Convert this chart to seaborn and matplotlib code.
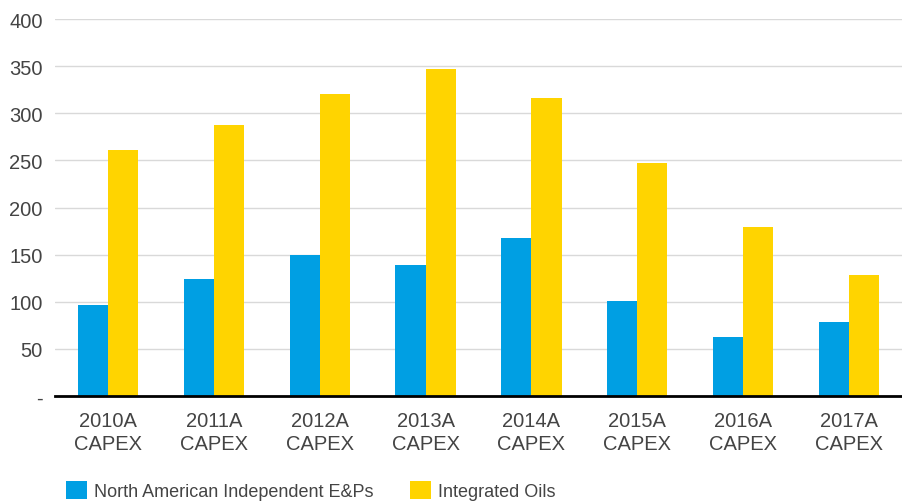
import pandas as pd
import numpy as np
import matplotlib.pyplot as plt
import seaborn as sns

# values
years = ['2010A\nCAPEX', '2011A\nCAPEX', '2012A\nCAPEX', '2013A\nCAPEX',
         '2014A\nCAPEX', '2015A\nCAPEX', '2016A\nCAPEX', '2017A\nCAPEX']
na_eps = [97, 124, 150, 139, 168, 101, 63, 78]
integrated = [261, 288, 320, 347, 316, 247, 179, 128]
series = ['North American Independent E&Ps', 'Integrated Oils']

df = pd.DataFrame({
    'Year': years * 2,
    'Series': [series[0]] * len(years) + [series[1]] * len(years),
    'Value': na_eps + integrated,
})

sns.set_style('white')
plt.rcParams['font.family'] = ['Liberation Sans', 'DejaVu Sans']

fig = plt.figure(figsize=(9.02, 5.02), dpi=100)
ax = fig.add_axes([55 / 902, 1 - 397 / 502, 847 / 902, 377 / 502])

ax = sns.barplot(data=df, x='Year', y='Value', hue='Series', order=years,
                 hue_order=series, palette=['#009FE3', '#FFD400'],
                 width=0.57, saturation=1, edgecolor='none', ax=ax)

ax.set_ylim(0, 400)
ax.set_xlim(-0.5, 7.5)
ax.set_yticks(np.arange(0, 401, 50))
ax.set_yticklabels(['-'] + [str(v) for v in range(50, 401, 50)])
ax.yaxis.grid(True, color='#D9D9D9', linewidth=1)
ax.set_axisbelow(True)
ax.set_xlabel('')
ax.set_ylabel('')
for s in ['top', 'right', 'left']:
    ax.spines[s].set_visible(False)
ax.spines['bottom'].set_color('black')
ax.spines['bottom'].set_linewidth(2)
ax.tick_params(axis='both', length=0, labelsize=14.5, labelcolor='#444444')
ax.tick_params(axis='y', pad=9)
ax.tick_params(axis='x', pad=11)
for lbl in ax.get_xticklabels():
    lbl.set_linespacing(1.25)

handles, labels = ax.get_legend_handles_labels()
ax.get_legend().remove()
fig.legend(handles, labels, loc='lower left', bbox_to_anchor=(50 / 902, -0.031),
           ncol=2, frameon=False, handlelength=1.15, handleheight=1.15,
           handletextpad=0.4, columnspacing=2.0, fontsize=13,
           labelcolor='#444444')

fig.savefig('out.png', dpi=100)
